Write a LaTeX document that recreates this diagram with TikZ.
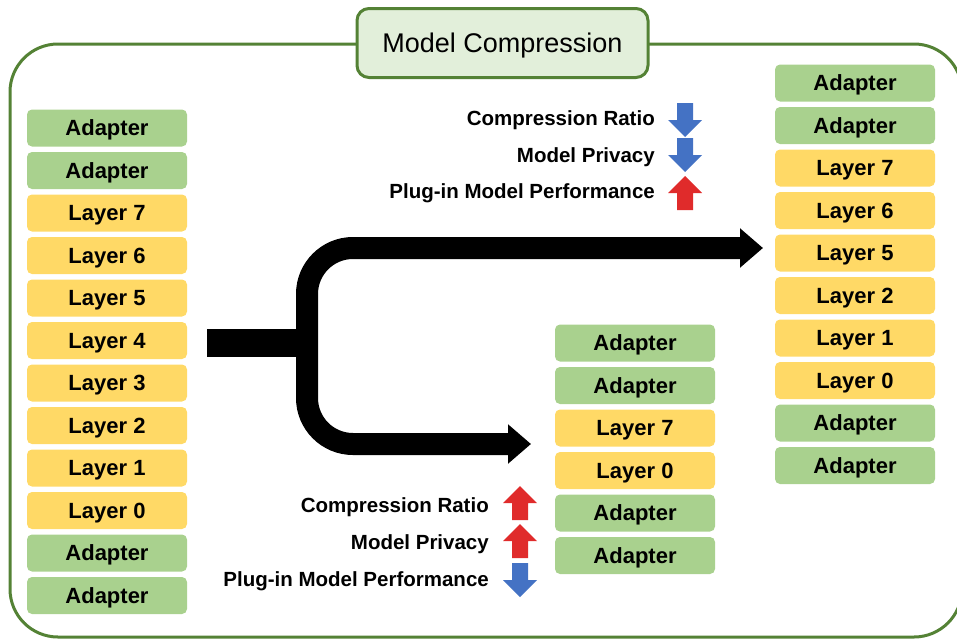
\documentclass[tikz,border=0pt]{standalone}
\usepackage{fontspec}
\setmainfont{Liberation Sans}
\usetikzlibrary{arrows.meta}
\definecolor{frameg}{HTML}{548235}
\definecolor{titlefill}{HTML}{E2EFDA}
\definecolor{adapterg}{HTML}{A9D18E}
\definecolor{layery}{HTML}{FFD966}
\definecolor{arrblue}{HTML}{4472C4}
\definecolor{arrred}{HTML}{E02B2B}
\tikzset{
  blk/.style={rounded corners=5pt, minimum width=160pt, minimum height=37pt, inner sep=0pt,
    font=\fontsize{22}{26}\selectfont\bfseries, text=black, text height=15.8pt, text depth=0pt},
  adp/.style={blk, fill=adapterg},
  lay/.style={blk, fill=layery},
  ind/.style={anchor=east, inner sep=0pt, font=\fontsize{20.5}{24}\selectfont\bfseries,
    text height=14.6pt, text depth=0pt},
  uparr/.pic={\fill (-8,17) -- (-8,0) -- (-17,0) -- (0,-17) -- (17,0) -- (8,0) -- (8,17) -- cycle;},
  dnarr/.pic={\fill (-8,-17) -- (-8,0) -- (-17,0) -- (0,17) -- (17,0) -- (8,0) -- (8,-17) -- cycle;},
  bigline/.style={line width=22pt, rounded corners=46pt},
}
\begin{document}
\begin{tikzpicture}[x=1pt,y=-1pt]
\useasboundingbox (0,0) rectangle (957,640);
% outer frame
\draw[frameg, line width=3pt, rounded corners=48pt] (10,44) rectangle (962,637);
% title
\node[draw=frameg, line width=3pt, fill=titlefill, rounded corners=12pt,
  minimum width=291pt, minimum height=69pt, inner sep=0pt,
  font=\fontsize{27}{32}\selectfont, text height=19.3pt, text depth=0pt] (title) at (502.5,43) {Model Compression};
% left column
\node[adp] (l1) at (107,128) {Adapter};
\node[adp] (l2) at (107,170.5) {Adapter};
\node[lay] (l3) at (107,213) {Layer 7};
\node[lay] (l4) at (107,255.5) {Layer 6};
\node[lay] (l5) at (107,298) {Layer 5};
\node[lay] (l6) at (107,340.5) {Layer 4};
\node[lay] (l7) at (107,383) {Layer 3};
\node[lay] (l8) at (107,425.5) {Layer 2};
\node[lay] (l9) at (107,468) {Layer 1};
\node[lay] (l10) at (107,510.5) {Layer 0};
\node[adp] (l11) at (107,553) {Adapter};
\node[adp] (l12) at (107,595.5) {Adapter};
% right column
\node[adp] (r1) at (855,83) {Adapter};
\node[adp] (r2) at (855,125.5) {Adapter};
\node[lay] (r3) at (855,168) {Layer 7};
\node[lay] (r4) at (855,210.5) {Layer 6};
\node[lay] (r5) at (855,253) {Layer 5};
\node[lay] (r6) at (855,295.5) {Layer 2};
\node[lay] (r7) at (855,338) {Layer 1};
\node[lay] (r8) at (855,380.5) {Layer 0};
\node[adp] (r9) at (855,423) {Adapter};
\node[adp] (r10) at (855,465.5) {Adapter};
% middle column
\node[adp] (m1) at (635,343) {Adapter};
\node[adp] (m2) at (635,385.5) {Adapter};
\node[lay] (m3) at (635,428) {Layer 7};
\node[lay] (m4) at (635,470.5) {Layer 0};
\node[adp] (m5) at (635,513) {Adapter};
\node[adp] (m6) at (635,555.5) {Adapter};
% fork arrow
\coordinate (stemL) at (207,343);
\coordinate (stemR) at (318,343);
\coordinate (tipTop) at (763,248);
\coordinate (tipBot) at (531,444);
\coordinate (vx) at (307,0);
\draw[line width=28pt] (stemL) -- (stemR);
\draw[bigline, {Triangle[length=23pt 0 0, width=38pt 0 0]}-{Triangle[length=23pt 0 0, width=38pt 0 0]}]
  (tipTop) -| (vx |- tipBot) -- (tipBot);
% top indicators
\node[ind] (t1) at (655,118) {Compression Ratio};
\node[ind] (t2) at (655,155) {Model Privacy};
\node[ind] (t3) at (655,191) {Plug-in Model Performance};
\pic[arrblue] at (685,120) {dnarr};
\pic[arrblue] at (685,155) {dnarr};
\pic[arrred] at (685,193) {uparr};
% bottom indicators
\node[ind] (b1) at (489,505) {Compression Ratio};
\node[ind] (b2) at (489,542) {Model Privacy};
\node[ind] (b3) at (489,579) {Plug-in Model Performance};
\pic[arrred] at (520,503) {uparr};
\pic[arrred] at (520,541) {uparr};
\pic[arrblue] at (520,580) {dnarr};
\end{tikzpicture}
\end{document}
